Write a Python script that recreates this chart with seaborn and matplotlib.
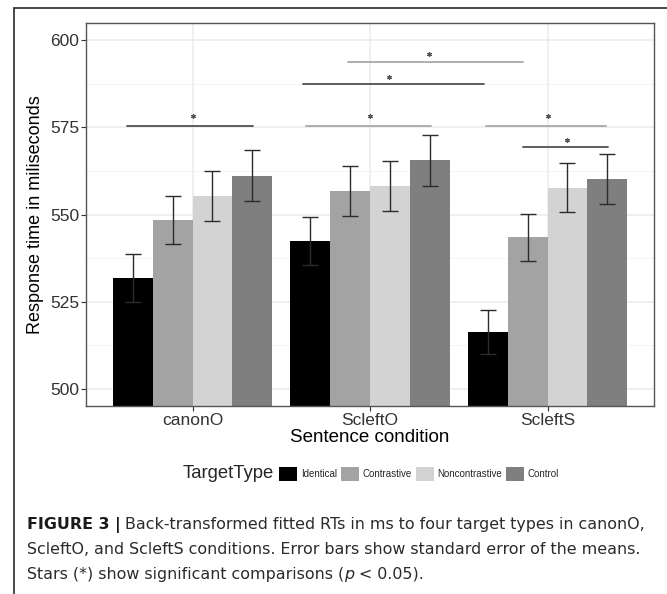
import matplotlib
matplotlib.use("Agg")
import matplotlib.pyplot as plt
import matplotlib.patches as mpatches
from matplotlib.lines import Line2D
import numpy as np
import pandas as pd
import seaborn as sns

# ---------------------------------------------------------------- data
conditions = ["canonO", "ScleftO", "ScleftS"]
target_types = ["Identical", "Contrastive", "Noncontrastive", "Control"]
rt_canonO = [531.7, 548.4, 555.4, 561.2]
rt_ScleftO = [542.4, 556.7, 558.2, 565.6]
rt_ScleftS = [516.2, 543.4, 557.7, 560.3]
se_canonO = [6.9, 6.8, 7.2, 7.4]
se_ScleftO = [6.9, 7.1, 7.1, 7.3]
se_ScleftS = [6.4, 6.8, 7.1, 7.2]
bar_colors = ["#000000", "#a3a3a3", "#d3d3d3", "#7f7f7f"]

# significance brackets (x in category positions 0..2, y in ms)
sig_x0 = [-0.37, 0.64, 1.655, 1.86, 0.625, 0.878]
sig_x1 = [0.34, 1.342, 2.33, 2.342, 1.643, 1.863]
sig_y = [575.3, 575.3, 575.3, 569.3, 587.4, 593.9]
star_x = [0.0, 1.0, 2.0, 2.11, 1.105, 1.33]
star_y = [578.2, 578.2, 578.2, 571.3, 589.6, 596.0]
sig_dark = [True, False, False, True, True, False]

caption_bold = "FIGURE 3 |"
caption_line1 = "Back-transformed fitted RTs in ms to four target types in canonO,"
caption_line2 = "ScleftO, and ScleftS conditions. Error bars show standard error of the means."
caption_line3 = "Stars (*) show significant comparisons ("

rows = []
for cond, rts, ses in zip(conditions, [rt_canonO, rt_ScleftO, rt_ScleftS],
                          [se_canonO, se_ScleftO, se_ScleftS]):
    for t, r, s in zip(target_types, rts, ses):
        rows.append({"condition": cond, "target": t, "rt": r, "se": s})
df = pd.DataFrame(rows)

# ---------------------------------------------------------------- plot
sns.set_style("white")
plt.rcParams["font.family"] = ["Liberation Sans", "DejaVu Sans"]

fig = plt.figure(figsize=(6.67, 5.94), dpi=100)
ax = fig.add_axes([86 / 667, 1 - 406 / 594, 568 / 667, 383 / 594])

sns.barplot(data=df, x="condition", y="rt", hue="target", order=conditions,
            hue_order=target_types, palette=bar_colors, errorbar=None,
            width=0.9, saturation=1, linewidth=0, ax=ax, zorder=2)
ax.get_legend().remove()

# error bars at the bar centres
bar_containers = list(ax.containers)
for j, cont in enumerate(bar_containers):
    sub = df[df["target"] == target_types[j]].set_index("condition").loc[conditions]
    xs = [b.get_x() + b.get_width() / 2 for b in cont]
    ax.errorbar(xs, sub["rt"], yerr=sub["se"], fmt="none", ecolor="#2b2b2b",
                elinewidth=1.0, capsize=5.5, capthick=1.0, zorder=3)

for x0, x1, y, sx, sy, dark in zip(sig_x0, sig_x1, sig_y, star_x, star_y, sig_dark):
    col = "#505050" if dark else "#a8a8a8"
    ax.plot([x0, x1], [y, y], color=col, lw=1.3, zorder=4)
    ax.plot([sx], [sy], marker=(6, 2, 0), ms=3.2, color="#555555", mew=0.9, zorder=4)

ax.set_xlim(-0.6, 2.6)
ax.set_ylim(495, 605)
ax.set_yticks([500, 525, 550, 575, 600])
ax.set_yticks([512.5, 537.5, 562.5, 587.5], minor=True)
ax.grid(True, which="major", color="#ebebeb", lw=1.1, zorder=0)
ax.grid(True, which="minor", axis="y", color="#f2f2f2", lw=0.6, zorder=0)
ax.set_axisbelow(True)
for sp in ax.spines.values():
    sp.set_color("#555555")
    sp.set_linewidth(1.0)
ax.tick_params(axis="both", which="major", length=3.5, width=0.8, color="#333333",
               labelcolor="#333333", labelsize=12.5, pad=1.5, left=True, bottom=True)
ax.tick_params(which="minor", length=0)
ax.set_xlabel("Sentence condition", fontsize=13.5, color="black", labelpad=1)
ax.set_ylabel("Response time in miliseconds", fontsize=13, color="black", labelpad=4)

# legend
fig.text(183 / 667, 1 - 474 / 594, "TargetType", fontsize=13.3, va="center", ha="left")
handles = [mpatches.Patch(facecolor=c, edgecolor="none") for c in bar_colors]
fig.legend(handles, target_types, loc="center left", bbox_to_anchor=(279 / 667, 1 - 474 / 594),
           ncol=4, frameon=False, fontsize=7, handlelength=1.86, handleheight=1.9,
           handletextpad=0.38, columnspacing=0.4, borderpad=0, borderaxespad=0)

# outer frame (left and top only)
fig.add_artist(Line2D([14 / 667, 14 / 667], [0, 1 - 8 / 594], transform=fig.transFigure,
                      color="#3a3a3a", lw=1.3))
fig.add_artist(Line2D([14 / 667, 1], [1 - 8 / 594, 1 - 8 / 594], transform=fig.transFigure,
                      color="#3a3a3a", lw=1.3))

# caption
cap_x = 27 / 667
cap_size = 11.4
cap_font = ["DejaVu Sans"]
fig.canvas.draw()
rend = fig.canvas.get_renderer()
tb = fig.text(cap_x, 1 - 525 / 594, caption_bold, fontsize=cap_size, fontweight="bold",
              family=cap_font, va="center", color="#1a1a1a")
bb = tb.get_window_extent(renderer=rend)
fig.text(bb.x1 / 667 + 4 / 667, 1 - 525 / 594, caption_line1, fontsize=cap_size,
         family=cap_font, va="center", color="#2a2a2a")
fig.text(cap_x, 1 - 550 / 594, caption_line2, fontsize=cap_size, family=cap_font,
         va="center", color="#2a2a2a")
t3 = fig.text(cap_x, 1 - 574 / 594, caption_line3, fontsize=cap_size, family=cap_font,
              va="center", color="#2a2a2a")
b3 = t3.get_window_extent(renderer=rend)
t4 = fig.text(b3.x1 / 667, 1 - 574 / 594, "p", fontsize=cap_size, style="italic",
              family=cap_font, va="center", color="#2a2a2a")
b4 = t4.get_window_extent(renderer=rend)
fig.text(b4.x1 / 667, 1 - 574 / 594, " < 0.05).", fontsize=cap_size, family=cap_font,
         va="center", color="#2a2a2a")

fig.savefig("out.png", dpi=100)
